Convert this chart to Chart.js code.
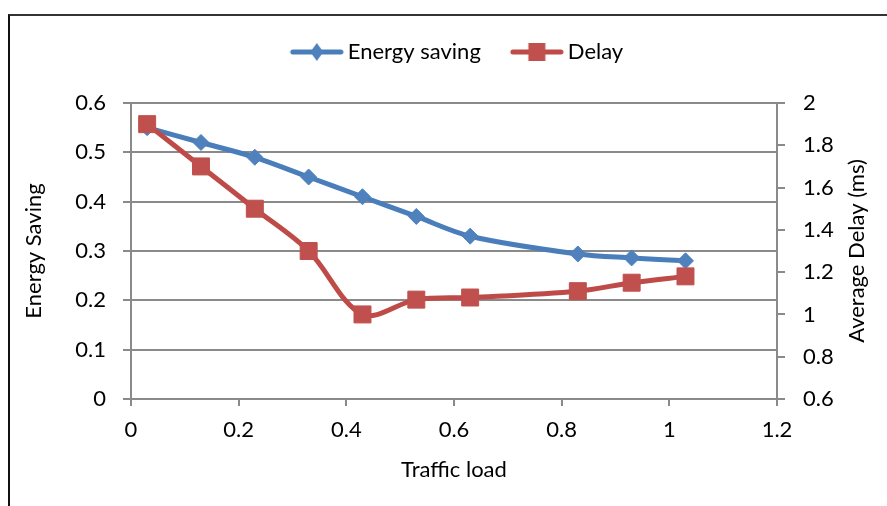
<!DOCTYPE html>
<html>
<head>
<meta charset="utf-8">
<script src="https://cdn.jsdelivr.net/npm/chart.js@4.4.1/dist/chart.umd.min.js"></script>
<style>
  html, body { margin: 0; padding: 0; background: #fff; }
  #wrap { position: relative; width: 887px; height: 506px; overflow: hidden; }
  #frame { position: absolute; left: 8px; top: 14px; width: 900px; height: 520px;
           border-left: 2px solid #111; border-top: 2px solid #333; box-sizing: border-box; }
  canvas { position: absolute; left: 0; top: 0; }
</style>
</head>
<body>
<div id="wrap">
  <div id="frame"></div>
  <canvas id="chart" width="887" height="506"></canvas>
</div>
<script>
// traffic load (x) for each measured point
const trafficLoad = [0.03, 0.13, 0.23, 0.33, 0.43, 0.53, 0.63, 0.83, 0.93, 1.03];
// energy saving, left axis
const energySaving = [0.55, 0.52, 0.49, 0.45, 0.41, 0.37, 0.33, 0.294, 0.286, 0.28];
// average delay in ms, right axis
const avgDelay = [1.9, 1.7, 1.5, 1.3, 1.0, 1.07, 1.08, 1.11, 1.15, 1.18];

const xTicks = [0, 0.2, 0.4, 0.6, 0.8, 1, 1.2];
const leftTicks = [0, 0.1, 0.2, 0.3, 0.4, 0.5, 0.6];
const rightTicks = [0.6, 0.8, 1, 1.2, 1.4, 1.6, 1.8, 2];

const BLUE_LINE = '#4A7EBB', BLUE_FILL = '#4F81BD';
const RED_LINE = '#BE4B48', RED_FILL = '#C0504D';
const GRID = '#8a8a8a';
const FONT = 'Lato';
const FS = 22;

// small canvases used as legend symbols: line with marker through it
// (drawn off-centre so the symbol sits just before the label text)
function legendSymbol(lineColor, fillColor, shape) {
  const c = document.createElement('canvas');
  c.width = 66; c.height = 22;
  const g = c.getContext('2d');
  g.strokeStyle = lineColor; g.lineWidth = 5; g.lineCap = 'round';
  g.beginPath(); g.moveTo(15, 11); g.lineTo(63, 11); g.stroke();
  g.fillStyle = fillColor;
  if (shape === 'diamond') {
    g.beginPath(); g.moveTo(39, 2); g.lineTo(45.5, 11); g.lineTo(39, 20); g.lineTo(32.5, 11); g.closePath(); g.fill();
  } else {
    g.fillRect(30.5, 2, 17, 18);
  }
  return c;
}
const symbols = [legendSymbol(BLUE_LINE, BLUE_FILL, 'diamond'), legendSymbol(RED_LINE, RED_FILL, 'square')];

function useTicks(list) {
  return (scale) => { scale.ticks = list.map(v => ({ value: v })); };
}

// right axis title reads bottom-to-top like the left one
const rightTitle = {
  id: 'rightTitle',
  afterDraw(chart) {
    const s = chart.scales.y2;
    const t = s.options.title;
    const ctx = chart.ctx;
    ctx.save();
    ctx.translate(s.right - 30, (chart.chartArea.top + chart.chartArea.bottom) / 2);
    ctx.rotate(-Math.PI / 2);
    ctx.font = `${t.font.size}px ${t.font.family}`;
    ctx.fillStyle = t.color;
    ctx.textAlign = 'center';
    ctx.textBaseline = 'middle';
    ctx.fillText(t.text, 0, 0);
    ctx.restore();
  },
};

new Chart(document.getElementById('chart'), {
  type: 'scatter',
  plugins: [rightTitle],
  data: {
    datasets: [
      {
        label: 'Energy saving',
        data: trafficLoad.map((x, i) => ({ x, y: energySaving[i] })),
        yAxisID: 'y',
        showLine: true,
        borderColor: BLUE_LINE,
        backgroundColor: BLUE_FILL,
        borderWidth: 5,
        pointStyle: 'rectRot',
        pointRadius: 8,
        pointBorderWidth: 1,
        pointBorderColor: BLUE_FILL,
        tension: 0.33,
        order: 1,
      },
      {
        label: 'Delay',
        data: trafficLoad.map((x, i) => ({ x, y: avgDelay[i] })),
        yAxisID: 'y2',
        showLine: true,
        borderColor: RED_LINE,
        backgroundColor: RED_FILL,
        borderWidth: 5,
        pointStyle: 'rect',
        pointRadius: 12,
        pointBorderWidth: 1,
        pointBorderColor: RED_FILL,
        tension: 0.33,
        order: 0,
      },
    ],
  },
  options: {
    responsive: false,
    animation: false,
    layout: { padding: { top: 17, left: 0, right: 0, bottom: 0 } },
    font: { family: FONT, size: FS },
    plugins: {
      tooltip: { enabled: false },
      legend: {
        position: 'top',
        fullSize: false,
        labels: {
          usePointStyle: true,
          pointStyleWidth: 52,
          padding: 24,
          color: '#000',
          font: { family: FONT, size: FS },
          generateLabels: (chart) => chart.data.datasets.map((ds, i) => ({
            text: ds.label,
            pointStyle: symbols[i],
            datasetIndex: i,
            fontColor: '#000',
            lineWidth: 0,
          })),
        },
      },
    },
    scales: {
      x: {
        type: 'linear',
        position: 'bottom',
        min: 0, max: 1.2,
        afterBuildTicks: useTicks(xTicks),
        afterFit: (s) => { s.height = 107; },
        grid: { drawOnChartArea: false, color: GRID, lineWidth: 2, tickLength: 7 },
        border: { color: GRID, width: 2 },
        ticks: { color: '#000', padding: 11, maxRotation: 0, font: { family: FONT, size: FS }, callback: (v) => String(v) },
        title: { display: true, text: 'Traffic load', color: '#000', font: { family: FONT, size: FS }, padding: { top: 0, bottom: 23 } },
      },
      xTop: {
        type: 'linear',
        position: 'top',
        min: 0, max: 1.2,
        afterFit: (s) => { s.height = 30; },
        grid: { display: false },
        border: { display: false },
        ticks: { display: false },
      },
      y: {
        type: 'linear',
        position: 'left',
        min: 0, max: 0.6,
        afterBuildTicks: useTicks(leftTicks),
        afterFit: (s) => { s.width = 131; },
        grid: { color: GRID, lineWidth: 2, tickLength: 8 },
        border: { color: GRID, width: 2 },
        ticks: { color: '#000', padding: 17, font: { family: FONT, size: FS }, callback: (v) => String(v) },
        title: { display: true, text: 'Energy Saving', color: '#000', font: { family: FONT, size: FS }, padding: { top: 21, bottom: 0 } },
      },
      y2: {
        type: 'linear',
        position: 'right',
        min: 0.6, max: 2,
        afterBuildTicks: useTicks(rightTicks),
        afterFit: (s) => { s.width = 110; },
        grid: { drawOnChartArea: false, color: GRID, lineWidth: 2, tickLength: 8 },
        border: { color: GRID, width: 2 },
        ticks: { color: '#000', padding: 18, font: { family: FONT, size: FS }, callback: (v) => String(v) },
        title: { display: false, text: 'Average Delay (ms)', color: '#000', font: { family: FONT, size: FS } },
      },
    },
  },
});
</script>
</body>
</html>
